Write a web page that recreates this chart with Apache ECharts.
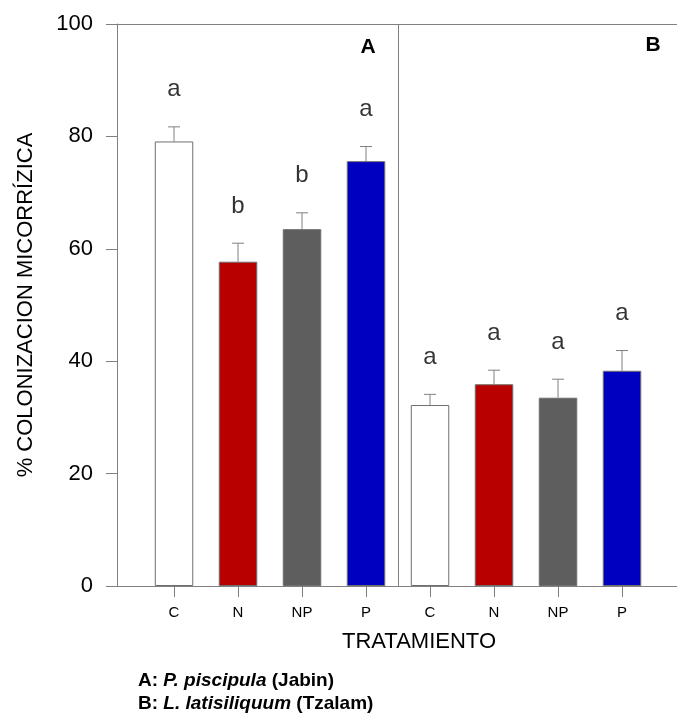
<!DOCTYPE html>
<html>
<head>
<meta charset="utf-8">
<script src="https://cdn.jsdelivr.net/npm/echarts@6/dist/echarts.min.js"></script>
<style>
    html, body { margin: 0; padding: 0; background: #fff; }
    #chart { width: 677px; height: 721px; }
</style>
</head>
<body>
<div id="chart"></div>
<script>
    // tratamientos y grupos
    var treatments = ['C', 'N', 'NP', 'P'];
    var groups = ['A', 'B'];
    // medias (% colonizacion)
    var meansA = [79.1, 57.7, 63.5, 75.6];
    var meansB = [32.2, 35.9, 33.5, 38.3];
    // error estandar
    var errA = [2.6, 3.3, 2.9, 2.6];
    var errB = [1.9, 2.5, 3.3, 3.6];
    // letras de significancia
    var lettersA = ['a', 'b', 'b', 'a'];
    var lettersB = ['a', 'a', 'a', 'a'];
    var yTicks = [0, 20, 40, 60, 80, 100];

    var colors = ['#ffffff', '#b80000', '#5e5e5e', '#0000c0'];
    var font = 'Liberation Sans, Arial, sans-serif';
    var gray = '#808080';

    var means = [meansA, meansB];
    var errs = [errA, errB];
    var letters = [lettersA, lettersB];

    var barData = [], errData = [], letterData = [], positions = [];
    for (var g = 0; g < groups.length; g++) {
        for (var i = 0; i < treatments.length; i++) {
            var x = g * treatments.length + i + 1;
            positions.push(x);
            barData.push({ value: [x, means[g][i]], itemStyle: { color: colors[i] } });
            errData.push([x, means[g][i], means[g][i] + errs[g][i]]);
            letterData.push({ value: [x, means[g][i] + errs[g][i]], name: letters[g][i] });
        }
    }

    var xMin = 0.109, xMax = 8.859;

    var myChart = echarts.init(document.getElementById('chart'));
    var option = {
        animation: false,
        backgroundColor: '#fff',
        grid: { left: 117, top: 24, right: 0, bottom: 135 },
        xAxis: [
            {
                type: 'value',
                min: xMin,
                max: xMax,
                position: 'bottom',
                axisLine: { show: true, lineStyle: { color: gray, width: 1 } },
                axisTick: { show: true, customValues: positions, length: 11, lineStyle: { color: gray } },
                axisLabel: {
                    customValues: positions,
                    margin: 19,
                    fontSize: 15,
                    fontFamily: font,
                    color: '#000',
                    formatter: function (v) {
                        return treatments[(Math.round(v) - 1) % treatments.length];
                    }
                },
                splitLine: { show: false }
            },
            {
                type: 'value',
                min: xMin,
                max: xMax,
                position: 'top',
                axisLine: { show: true, lineStyle: { color: gray, width: 1 } },
                axisTick: { show: false },
                axisLabel: { show: false },
                splitLine: { show: false }
            }
        ],
        yAxis: {
            type: 'value',
            min: yTicks[0],
            max: yTicks[yTicks.length - 1],
            interval: 20,
            axisLine: { show: true, lineStyle: { color: gray, width: 1 } },
            axisTick: { show: true, length: 11, lineStyle: { color: gray } },
            axisLabel: { margin: 24, fontSize: 22, fontFamily: font, color: '#000' },
            splitLine: { show: false },
            name: '% COLONIZACION MICORRÍZICA',
            nameLocation: 'middle',
            nameGap: 80,
            nameTextStyle: { fontSize: 22, fontFamily: font, color: '#000' }
        },
        series: [
            {
                type: 'bar',
                xAxisIndex: 0,
                barWidth: 38.5,
                data: barData,
                itemStyle: { borderColor: '#6e6e6e', borderWidth: 1 },
                markLine: {
                    silent: true,
                    symbol: 'none',
                    label: { show: false },
                    lineStyle: { color: gray, type: 'solid', width: 1 },
                    data: [{ xAxis: 4.5 }]
                }
            },
            {
                type: 'custom',
                xAxisIndex: 0,
                data: errData,
                z: 3,
                renderItem: function (params, api) {
                    var base = api.coord([api.value(0), api.value(1)]);
                    var top = api.coord([api.value(0), api.value(2)]);
                    var style = { stroke: gray, lineWidth: 1 };
                    return {
                        type: 'group',
                        children: [
                            { type: 'line', shape: { x1: top[0], y1: base[1], x2: top[0], y2: top[1] }, style: style },
                            { type: 'line', shape: { x1: top[0] - 6, y1: top[1], x2: top[0] + 6, y2: top[1] }, style: style }
                        ]
                    };
                }
            },
            {
                type: 'scatter',
                xAxisIndex: 0,
                symbolSize: 0,
                data: letterData,
                label: {
                    show: true,
                    position: 'inside',
                    offset: [0, -37],
                    formatter: '{b}',
                    fontSize: 24,
                    fontFamily: font,
                    color: '#000'
                }
            }
        ],
        graphic: [
            {
                type: 'text', x: 419, y: 642,
                style: {
                    text: 'TRATAMIENTO', font: '22px ' + font, fill: '#000',
                    align: 'center', verticalAlign: 'middle'
                }
            },
            {
                type: 'text', x: 368, y: 47,
                style: { text: groups[0], font: 'bold 21px ' + font, fill: '#000', align: 'center', verticalAlign: 'middle' }
            },
            {
                type: 'text', x: 653, y: 45,
                style: { text: groups[1], font: 'bold 21px ' + font, fill: '#000', align: 'center', verticalAlign: 'middle' }
            },
            {
                type: 'text', left: 138, top: 669,
                style: {
                    text: '{b|A: }{i|P. piscipula}{b| (Jabin)}\n{b|B: }{i|L. latisiliquum}{b| (Tzalam)}',
                    lineHeight: 23,
                    rich: {
                        b: { font: 'bold 19px ' + font, fill: '#000', lineHeight: 23 },
                        i: { font: 'italic bold 19px ' + font, fill: '#000', lineHeight: 23 }
                    }
                }
            }
        ]
    };
    myChart.setOption(option);
</script>
</body>
</html>
